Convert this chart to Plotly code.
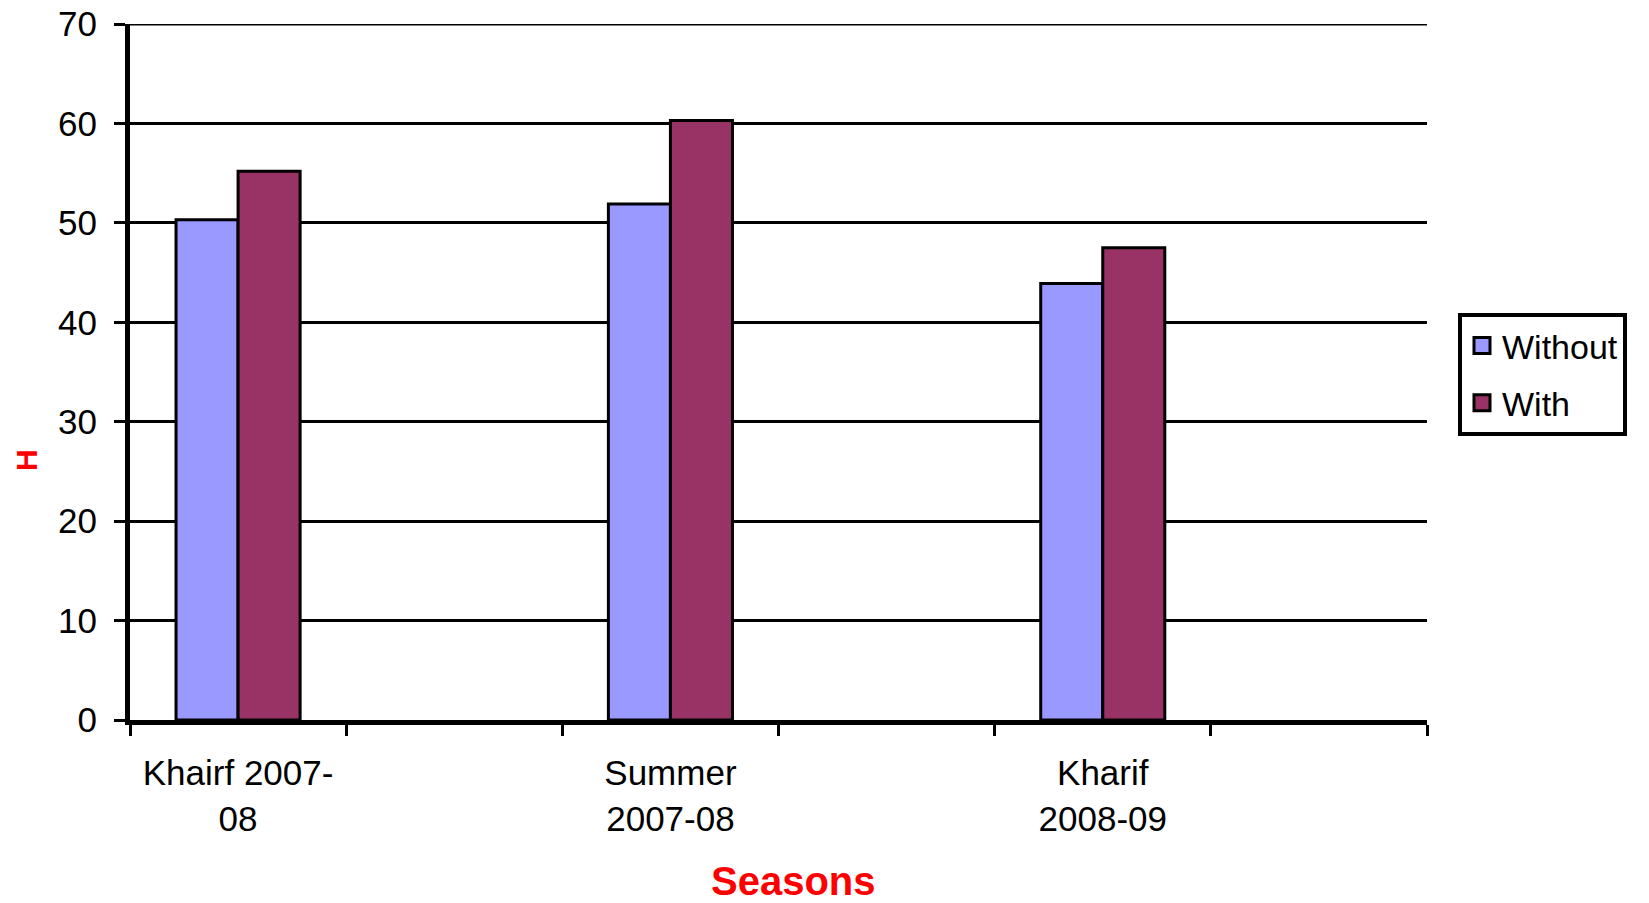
import plotly.graph_objects as go

# Season slots (empty slots keep the wide spacing between seasons)
categories = ["Khairf 2007-<br>08", " ", "Summer<br>2007-08", "  ", "Kharif<br>2008-09", "   "]
without_vals = [50.3, None, 51.9, None, 43.9, None]
with_vals = [55.2, None, 60.3, None, 47.5, None]
y_ticks = [0, 10, 20, 30, 40, 50, 60, 70]
series_names = ["Without", "With"]
series_colors = ["#9999FF", "#993366"]

FONT = "Liberation Sans, Arial, sans-serif"

fig = go.Figure()
for name, color, vals in zip(series_names, series_colors, [without_vals, with_vals]):
    fig.add_trace(go.Bar(
        x=categories, y=vals, name=name, legendgroup=name, showlegend=False,
        marker=dict(color=color, line=dict(color="black", width=3)),
    ))
    # legend key: a bordered square swatch for each series
    fig.add_trace(go.Scatter(
        x=[None], y=[None], mode="markers", name=name, legendgroup=name,
        marker=dict(symbol="square", size=16, color=color, line=dict(color="black", width=3)),
    ))

fig.update_layout(
    width=1649, height=903, autosize=False,
    margin=dict(l=130, r=222, t=24, b=183),
    paper_bgcolor="white", plot_bgcolor="white",
    font=dict(family=FONT, size=35, color="black"),
    barmode="group", bargap=0.426, bargroupgap=0,
    showlegend=True,
    legend=dict(
        x=(1458 - 130) / 1297, y=(720 - 313) / 696, xref="paper", yref="paper",
        xanchor="left", yanchor="top",
        font=dict(size=34, family=FONT),
        bordercolor="black", borderwidth=4, bgcolor="white",
        traceorder="grouped", tracegroupgap=10,
        itemwidth=30,
    ),
)

fig.update_xaxes(
    type="category", categoryorder="array", categoryarray=categories,
    tickson="boundaries", ticks="outside", ticklen=11, tickwidth=3, tickcolor="black",
    showline=True, linecolor="black", linewidth=5,
    showgrid=False, tickfont=dict(size=35, family=FONT),
    ticklabelstandoff=18, automargin=False,
)
fig.update_yaxes(
    range=[0, 70], tickvals=y_ticks, ticktext=[str(v) for v in y_ticks],
    ticks="outside", ticklen=11, tickwidth=3, tickcolor="black",
    showline=True, linecolor="black", linewidth=5,
    showgrid=True, gridcolor="black", gridwidth=3,
    zeroline=False, tickfont=dict(size=35, family=FONT),
    ticklabelstandoff=10, automargin=False,
)

# top gridline at the upper edge of the value axis
fig.add_shape(
    type="line", xref="paper", yref="y", x0=0, x1=1, y0=70, y1=70,
    line=dict(color="black", width=3), layer="below",
)

fig.add_annotation(
    text="<b>Seasons</b>", xref="paper", yref="paper",
    x=(793 - 130) / 1297, y=(720 - 881) / 696,
    xanchor="center", yanchor="middle", showarrow=False,
    font=dict(size=40, color="red", family=FONT),
)
fig.add_annotation(
    text="<b>H</b>", xref="paper", yref="paper",
    x=(27 - 130) / 1297, y=(720 - 460) / 696, textangle=-90,
    xanchor="center", yanchor="middle", showarrow=False,
    font=dict(size=30, color="red", family=FONT),
)

fig.write_html("out.html")
